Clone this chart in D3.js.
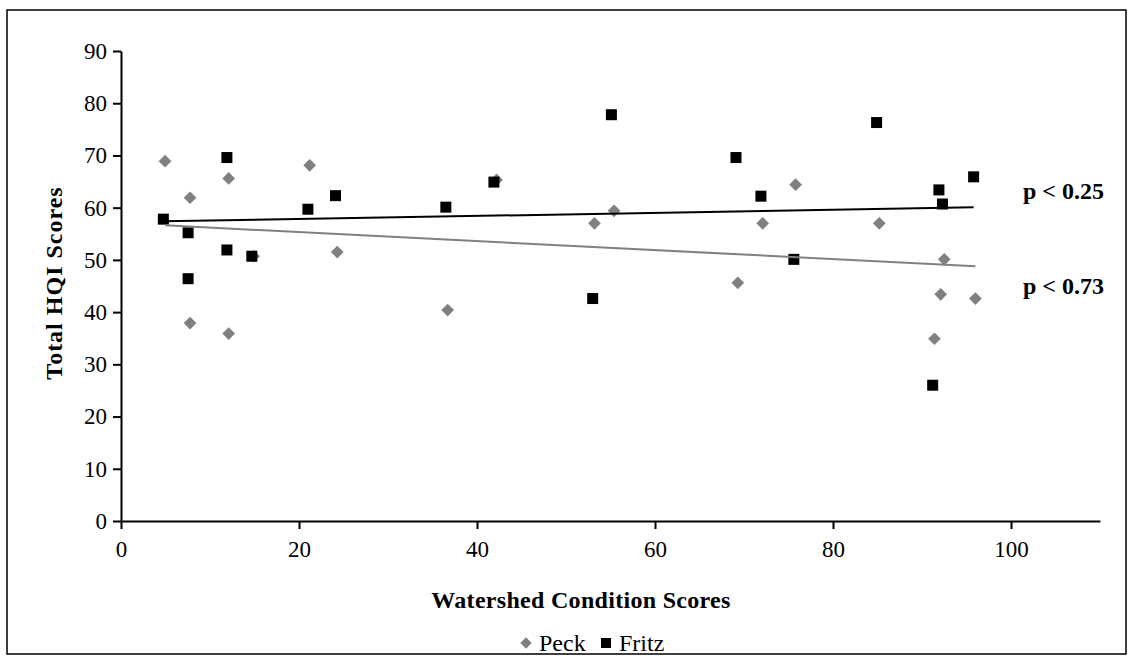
<!DOCTYPE html>
<html>
<head>
<meta charset="utf-8">
<script src="https://cdn.jsdelivr.net/npm/d3@7"></script>
<style>
  body { margin: 0; background: #fff; }
  svg { display: block; font-family: "Liberation Serif", "Times New Roman", serif; }
</style>
</head>
<body>
<div id="chart"></div>
<script>
// Data
const peckX  = [4.95, 7.76, 7.76, 12.1, 12.1, 14.9, 21.2, 24.3, 36.7, 42.2, 53.2, 55.4, 69.3, 72.1, 75.8, 85.2, 91.4, 92.1, 92.5, 96.0];
const peckY  = [68.9, 61.9, 37.9, 65.6, 35.9, 50.7, 68.1, 51.5, 40.4, 65.3, 57.0, 59.4, 45.6, 57.0, 64.4, 57.0, 34.9, 43.4, 50.1, 42.6];
const fritzX = [4.76, 7.54, 7.54, 11.9, 11.9, 14.7, 21.0, 24.1, 36.5, 41.9, 53.0, 55.1, 69.1, 71.9, 75.6, 84.9, 91.2, 91.9, 92.3, 95.8];
const fritzY = [57.8, 55.2, 46.4, 69.6, 51.9, 50.7, 59.7, 62.3, 60.1, 64.9, 42.6, 77.8, 69.6, 62.2, 50.1, 76.3, 26.0, 63.4, 60.7, 65.9];
const xTicks = [0, 20, 40, 60, 80, 100];
const yTicks = [0, 10, 20, 30, 40, 50, 60, 70, 80, 90];
const pLabels = ["p < 0.25", "p < 0.73"];

const W = 1128, H = 656;
const margin = {top: 51, right: 28, bottom: 135, left: 121},
    width = W - margin.left - margin.right,
    height = H - margin.top - margin.bottom;

const svg = d3.select("#chart")
  .append("svg")
    .attr("width", W)
    .attr("height", H);

// outer frame
svg.append("rect")
  .attr("x", 7).attr("y", 10)
  .attr("width", 1119).attr("height", 644)
  .attr("fill", "none")
  .attr("stroke", "#000")
  .attr("stroke-width", 1.5);

const g = svg.append("g")
  .attr("transform", `translate(${margin.left},${margin.top})`);

const x = d3.scaleLinear().domain([0, 110]).range([0, width]);
const y = d3.scaleLinear().domain([0, 90]).range([height, 0]);

// X axis
const xAxis = g.append("g")
  .attr("transform", `translate(0, ${height})`)
  .call(d3.axisBottom(x).tickValues(xTicks).tickSize(8).tickSizeOuter(0).tickPadding(12));

// Y axis
const yAxis = g.append("g")
  .call(d3.axisLeft(y).tickValues(yTicks).tickSize(8).tickSizeOuter(0).tickPadding(6));

[xAxis, yAxis].forEach(a => {
  a.select(".domain").attr("stroke", "#000").attr("stroke-width", 2);
  a.selectAll(".tick line").attr("stroke", "#000").attr("stroke-width", 2);
  a.selectAll(".tick text")
    .attr("fill", "#000")
    .style("font-family", "Liberation Serif")
    .style("font-size", "23px");
});

// Trend lines (least squares)
function fit(xs, ys) {
  const n = xs.length;
  const mx = d3.mean(xs), my = d3.mean(ys);
  let sxy = 0, sxx = 0;
  for (let i = 0; i < n; i++) {
    sxy += (xs[i] - mx) * (ys[i] - my);
    sxx += (xs[i] - mx) * (xs[i] - mx);
  }
  const b = sxy / sxx, a = my - b * mx;
  const x0 = d3.min(xs), x1 = d3.max(xs);
  return [[x0, a + b * x0], [x1, a + b * x1]];
}

const line = d3.line().x(d => x(d[0])).y(d => y(d[1]));

const peck = peckX.map((v, i) => [v, peckY[i]]);
const fritz = fritzX.map((v, i) => [v, fritzY[i]]);

// Peck diamonds
g.append("g")
  .selectAll("rect")
  .data(peck)
  .join("rect")
    .attr("x", -4.5).attr("y", -4.5)
    .attr("width", 9).attr("height", 9)
    .attr("transform", d => `translate(${x(d[0])},${y(d[1])}) rotate(45)`)
    .attr("fill", "#808080");

// Fritz squares
g.append("g")
  .selectAll("rect")
  .data(fritz)
  .join("rect")
    .attr("x", d => x(d[0]) - 5.5)
    .attr("y", d => y(d[1]) - 5.5)
    .attr("width", 11).attr("height", 11)
    .attr("fill", "#000");

g.append("path")
  .datum(fit(peckX, peckY))
  .attr("fill", "none")
  .attr("stroke", "#808080")
  .attr("stroke-width", 2)
  .attr("d", line);

g.append("path")
  .datum(fit(fritzX, fritzY))
  .attr("fill", "none")
  .attr("stroke", "#000")
  .attr("stroke-width", 2)
  .attr("d", line);

// p-value labels
svg.selectAll(".plab")
  .data(pLabels)
  .join("text")
    .attr("class", "plab")
    .attr("x", 1023)
    .attr("y", (d, i) => i === 0 ? 199 : 294)
    .style("font-size", "24px")
    .style("font-weight", "bold")
    .text(d => d);

// Axis titles
svg.append("text")
  .attr("x", 581)
  .attr("y", 608)
  .attr("text-anchor", "middle")
  .style("font-size", "24px")
  .style("font-weight", "bold")
  .style("letter-spacing", "0.3px")
  .text("Watershed Condition Scores");

svg.append("text")
  .attr("transform", "translate(62, 283) rotate(-90)")
  .attr("text-anchor", "middle")
  .style("font-size", "24px")
  .style("font-weight", "bold")
  .style("letter-spacing", "1px")
  .text("Total HQI Scores");

// Legend
const legend = svg.append("g").attr("transform", "translate(0, 643)");
legend.append("rect")
  .attr("x", -4).attr("y", -4).attr("width", 8).attr("height", 8)
  .attr("transform", "translate(526,0) rotate(45)")
  .attr("fill", "#808080");
legend.append("text")
  .attr("x", 539).attr("y", 8)
  .style("font-size", "24px")
  .text("Peck");
legend.append("rect")
  .attr("x", 601).attr("y", -5).attr("width", 10).attr("height", 10)
  .attr("fill", "#000");
legend.append("text")
  .attr("x", 619).attr("y", 8)
  .style("font-size", "24px")
  .text("Fritz");
</script>
</body>
</html>
